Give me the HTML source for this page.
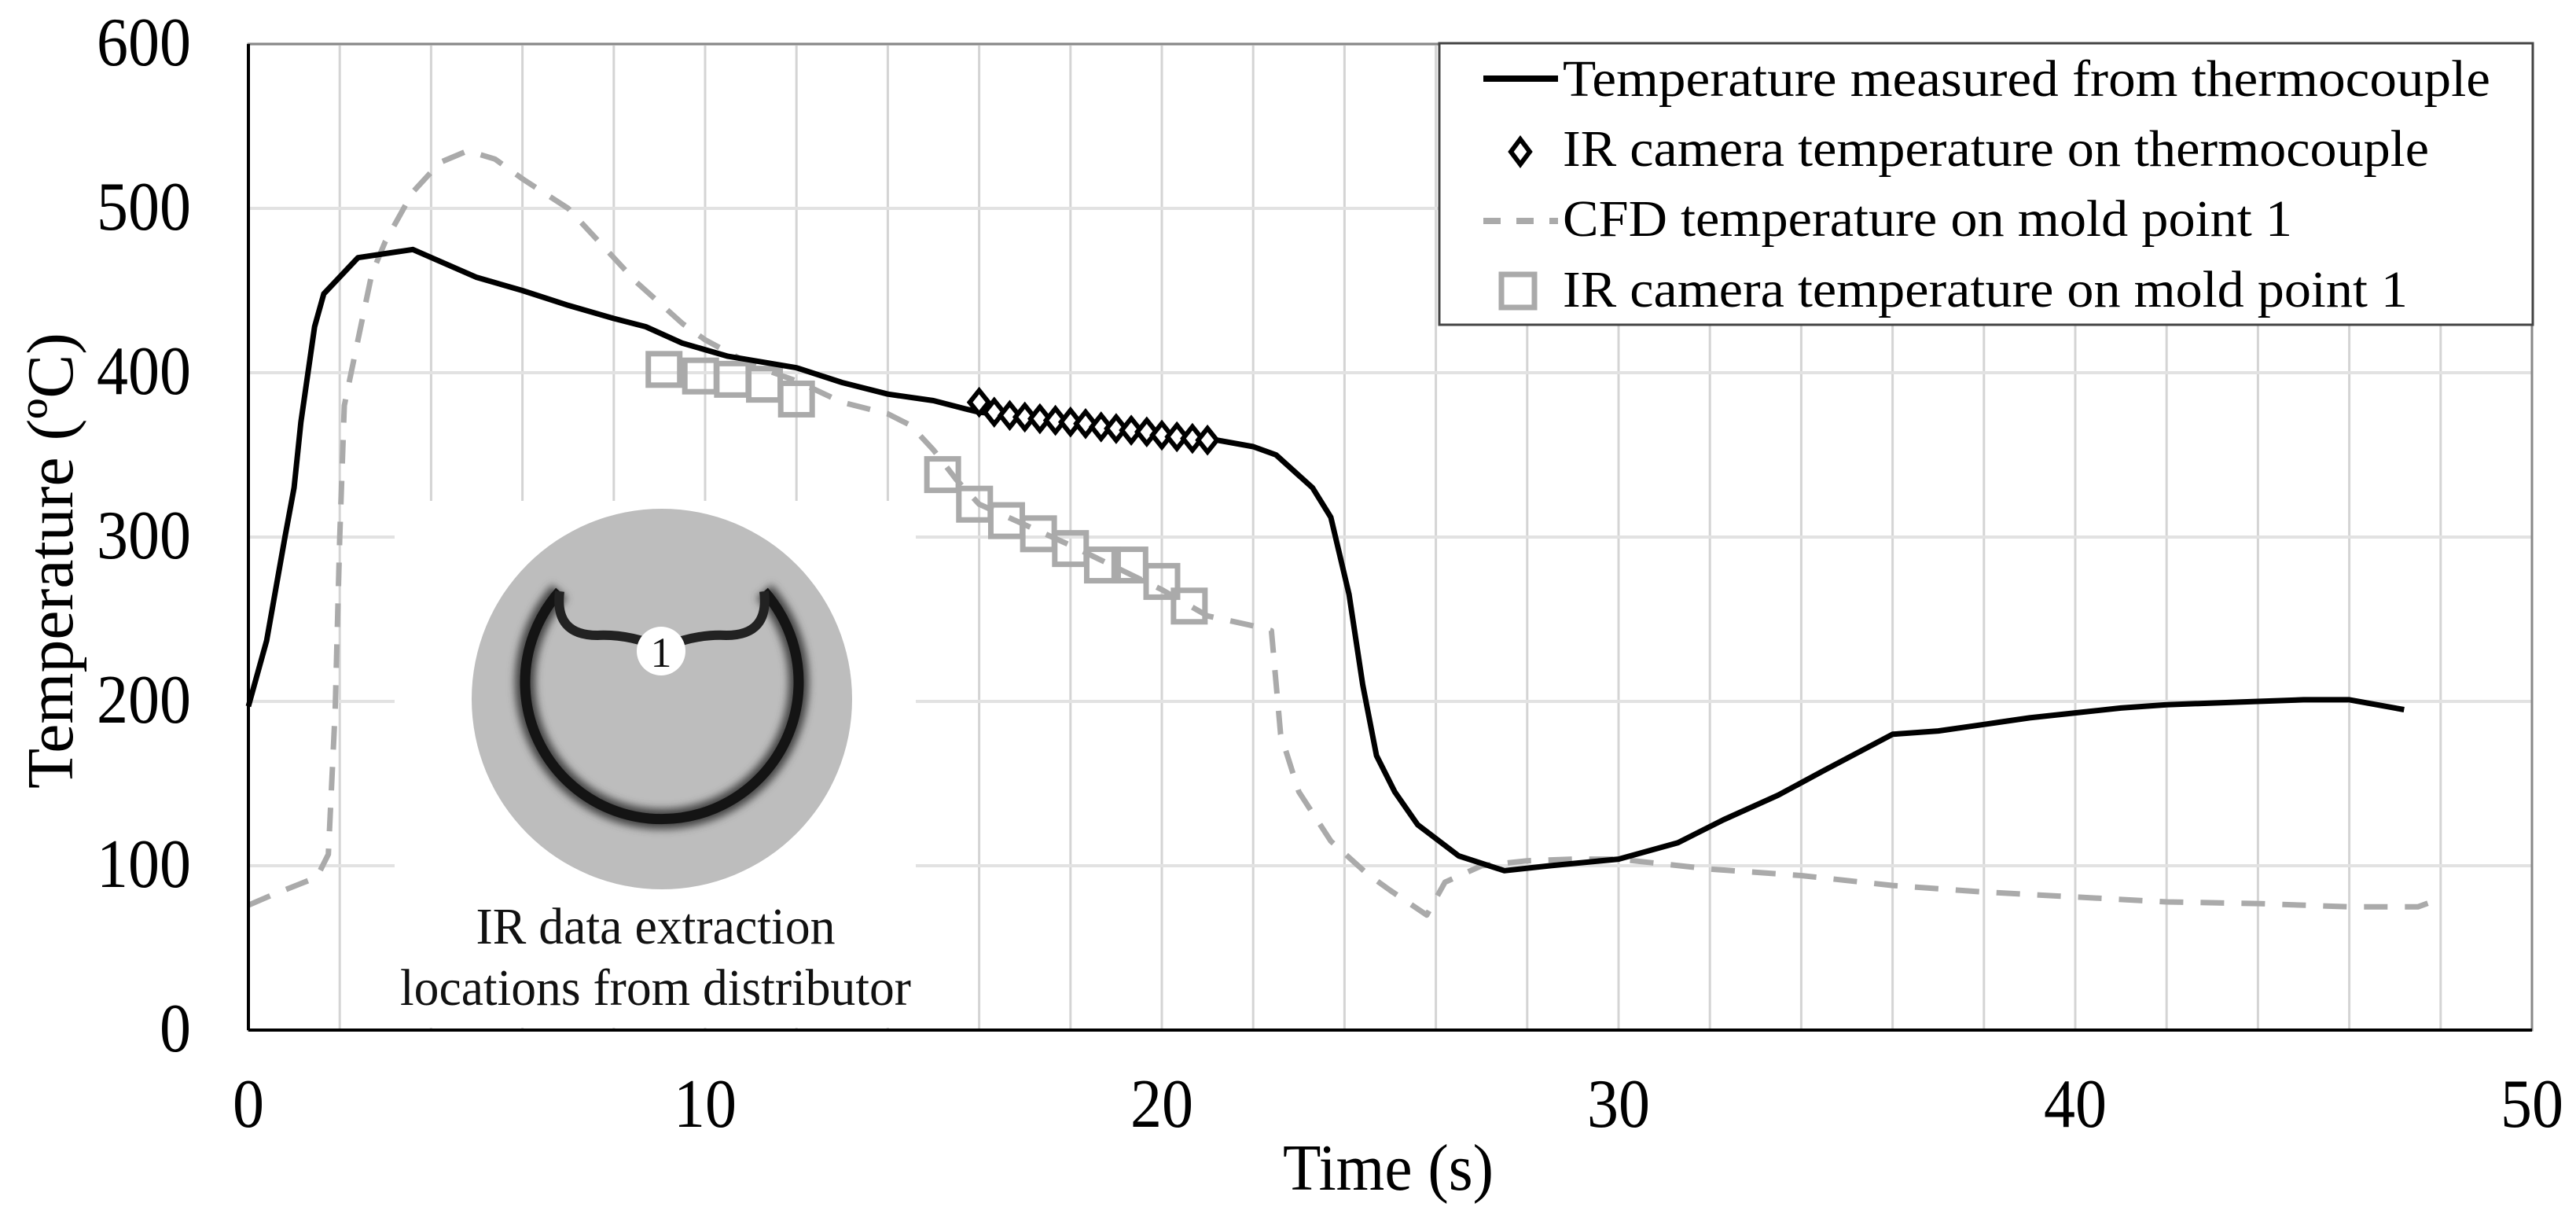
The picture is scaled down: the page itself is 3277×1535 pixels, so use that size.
<!DOCTYPE html>
<html><head><meta charset="utf-8">
<style>
html,body{margin:0;padding:0;background:#fff;}
svg{display:block;font-family:"Liberation Serif",serif;}
</style></head>
<body>
<svg id="chart" width="3277" height="1535" viewBox="0 0 3277 1535" xmlns="http://www.w3.org/2000/svg">
<defs>
  <filter id="soft" x="-20%" y="-20%" width="140%" height="140%"><feGaussianBlur stdDeviation="5"/></filter>
</defs>
<rect x="0" y="0" width="3277" height="1535" fill="#fff"/>
<g id="grid"></g>
<g id="inset">
  <rect x="502" y="637" width="663" height="670" fill="#fff"/>
  <circle cx="842" cy="889" r="242" fill="#bdbdbd"/>
  <path d="M 712 752 A 174 174 0 1 0 972 752" fill="none" stroke="#444" stroke-width="26" filter="url(#soft)"/>
  <path d="M 712 752 A 174 174 0 1 0 972 752" fill="none" stroke="#141414" stroke-width="13"/>
  <path d="M 712 752 Q 705 808 760 808 Q 800 806 842 824 Q 884 806 924 808 Q 979 808 972 752" fill="none" stroke="#222" stroke-width="12"/>
  <circle cx="841" cy="828" r="31" fill="#fff"/>
  <text x="841" y="848" font-size="54" text-anchor="middle" fill="#111">1</text>
  <text x="834" y="1200" font-size="66" text-anchor="middle" fill="#111" textLength="457" lengthAdjust="spacingAndGlyphs">IR data extraction</text>
  <text x="834" y="1278" font-size="66" text-anchor="middle" fill="#111" textLength="650" lengthAdjust="spacingAndGlyphs">locations from distributor</text>
</g>
<g id="series"></g>
<g id="axes"></g>
<g id="legend">
  <rect x="1831" y="55" width="1391" height="358" fill="#fff" stroke="#444" stroke-width="3"/>
  <line x1="1887" y1="100" x2="1982" y2="100" stroke="#000" stroke-width="8"/>
  <text x="1988" y="122" font-size="66" fill="#000" textLength="1180" lengthAdjust="spacingAndGlyphs">Temperature measured from thermocouple</text>
  <path d="M 1934 177 L 1946 193 L 1934 209 L 1922 193 Z" fill="#fff" stroke="#000" stroke-width="6"/>
  <text x="1988" y="211" font-size="66" fill="#000" textLength="1102" lengthAdjust="spacingAndGlyphs">IR camera temperature on thermocouple</text>
  <line x1="1887" y1="281" x2="1982" y2="281" stroke="#aaa" stroke-width="8" stroke-dasharray="22 20"/>
  <text x="1988" y="300" font-size="66" fill="#000" textLength="928" lengthAdjust="spacingAndGlyphs">CFD temperature on mold point 1</text>
  <rect x="1910" y="349" width="42" height="42" fill="#fff" stroke="#aaa" stroke-width="7"/>
  <text x="1988" y="390" font-size="66" fill="#000" textLength="1075" lengthAdjust="spacingAndGlyphs">IR camera temperature on mold point 1</text>
</g>
</svg>
<script>
const xTicks = [0, 10, 20, 30, 40, 50];
const yTicks = [0, 100, 200, 300, 400, 500, 600];
const tcTime = [0,0.4,0.8,1.0,1.15,1.45,1.65,2.4,3.6,5,6,7,8,8.7,9.5,10.5,12,13,14,15,15.7,16,17,18,19,20,21,22,22.5,23.3,23.7,24.1,24.4,24.7,25.1,25.6,26.5,27.5,28.5,30,31.3,32.3,33.5,34.5,36,37,38,39,40,41,42,43,44,45,46,47.2];
const tcTemp = [197,237,300,330,370,428,448,470,475,458,450,441,433,428,418,410,403,394,387,383,378,376,373,369,366,363,360,355,350,330,312,265,210,167,145,125,106,97,100,104,114,128,143,158,180,182,186,190,193,196,198,199,200,201,201,195];
const cfdTime = [0,0.5,1.5,1.75,1.9,2.0,2.1,2.4,2.7,3,3.6,4.2,4.8,5.4,6,7,8,8.5,9.5,10,11,12,13,14,14.5,15,15.5,16,18,20,21,22,22.4,22.6,23,23.7,24.5,25,25.8,26.2,27,28,29,30,32,34,36,38,40,42,44,46,47.5,48];
const cfdTemp = [76,82,93,107,195,300,380,420,460,480,510,528,535,530,518,500,470,455,430,420,405,395,382,375,368,353,335,320,295,268,252,246,243,180,145,115,95,85,70,90,100,103,104,104,98,94,88,84,81,78,77,75,75,80];
const irTcTime = [16,16.33,16.67,17,17.33,17.67,18,18.33,18.67,19,19.33,19.67,20,20.33,20.67,21];
const irTcTemp = [382,376,374,373,372,371,370,369,367,366,365,364,362,361,360,359];
const irMoldTime = [9.1,9.9,10.6,11.3,12,15.2,15.9,16.6,17.3,18,18.7,19.3,20,20.6];
const irMoldTemp = [402,398,396,393,384,338,320,310,302,293,283,283,273,258];

const X0=316, X1=3221, Y0=1310, Y1=56;
function sx(t){return X0+(t-0)/(50-0)*(X1-X0);}
function sy(v){return Y0-(v-0)/(600-0)*(Y0-Y1);}
const NS="http://www.w3.org/2000/svg";
function mk(tag,attrs,parent){const e=document.createElementNS(NS,tag);for(const k in attrs)e.setAttribute(k,attrs[k]);parent.appendChild(e);return e;}

const grid=document.getElementById('grid');
for(let t=2;t<50;t+=2){
  const l=mk('line',{x1:sx(t),y1:Y1,x2:sx(t),y2:Y0,stroke:'#d4d4d4','stroke-width':3},grid);
  
  
}
yTicks.forEach(v=>{ if(v===0)return;
  const l=mk('line',{x1:X0,y1:sy(v),x2:X1,y2:sy(v),stroke:'#e2e2e2','stroke-width':4},grid);
  
  
});

const ser=document.getElementById('series');
function pts(xs,ys){return xs.map((t,i)=>sx(t).toFixed(1)+','+sy(ys[i]).toFixed(1)).join(' ');}
const cfd=mk('polyline',{points:pts(cfdTime,cfdTemp),fill:'none',stroke:'#aaa','stroke-width':7,'stroke-dasharray':'30 22','stroke-linejoin':'round'},ser);


irMoldTime.forEach((t,i)=>{
  const r=mk('rect',{x:sx(t)-20,y:sy(irMoldTemp[i])-20,width:40,height:40,fill:'none',stroke:'#aaa','stroke-width':7},ser);
  
  
});
const tc=mk('polyline',{points:pts(tcTime,tcTemp),fill:'none',stroke:'#000','stroke-width':7,'stroke-linejoin':'round'},ser);


irTcTime.forEach((t,i)=>{
  const cx=sx(t),cy=sy(irTcTemp[i]);
  const d=mk('path',{d:`M ${cx} ${cy-15} L ${cx+12} ${cy} L ${cx} ${cy+15} L ${cx-12} ${cy} Z`,fill:'#fff',stroke:'#000','stroke-width':6},ser);
  
  
});

const ax=document.getElementById('axes');
const fr=mk('rect',{x:X0,y:Y1,width:X1-X0,height:Y0-Y1,fill:'none',stroke:'#888','stroke-width':3},ax);


const ya=mk('line',{x1:X0,y1:Y1,x2:X0,y2:Y0,stroke:'#000','stroke-width':4},ax);


const xa=mk('line',{x1:X0,y1:Y0,x2:X1,y2:Y0,stroke:'#000','stroke-width':4},ax);


yTicks.forEach(v=>{
  const s=String(v);
  const tx=mk('text',{x:243,y:sy(v)+27,'font-size':88,'text-anchor':'end',fill:'#000',textLength:40*s.length,lengthAdjust:'spacingAndGlyphs'},ax);
  tx.textContent=s;
  
  
});
xTicks.forEach(t=>{
  const s=String(t);
  const tx=mk('text',{x:sx(t),y:1433,'font-size':88,'text-anchor':'middle',fill:'#000',textLength:40*s.length,lengthAdjust:'spacingAndGlyphs'},ax);
  tx.textContent=s;
  
  
});
const xt=mk('text',{x:1766,y:1513,'font-size':84,'text-anchor':'middle',fill:'#000',textLength:268,lengthAdjust:'spacingAndGlyphs'},ax);
xt.textContent='Time (s)';


const yt=mk('text',{x:0,y:0,'font-size':84,'text-anchor':'middle',fill:'#000',textLength:580,lengthAdjust:'spacingAndGlyphs',transform:'translate(92,713) rotate(-90)'},ax);
yt.textContent='Temperature  (ºC)';


</script>
</body></html>
